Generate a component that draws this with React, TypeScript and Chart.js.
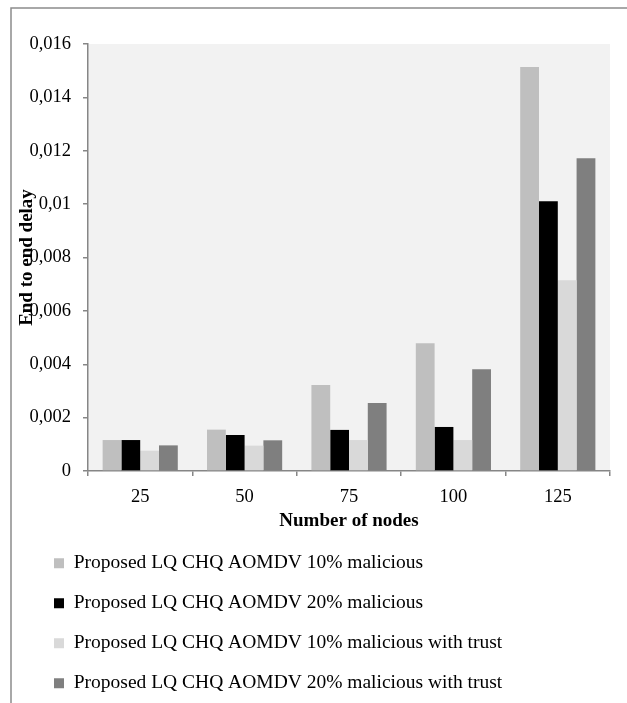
import React, { useEffect, useRef } from "react";
import { Chart, registerables } from "chart.js";

Chart.register(...registerables);

const categories = ["25", "50", "75", "100", "125"];
const seriesLabels = [
  "Proposed LQ CHQ AOMDV 10% malicious",
  "Proposed LQ CHQ AOMDV 20% malicious",
  "Proposed LQ CHQ AOMDV 10% malicious with trust",
  "Proposed LQ CHQ AOMDV 20% malicious with trust",
];
const mal10 = [0.00116, 0.00155, 0.00322, 0.00479, 0.01514];
const mal20 = [0.00116, 0.00135, 0.00154, 0.00165, 0.01011];
const mal10Trust = [0.00076, 0.00095, 0.00116, 0.00116, 0.00715];
const mal20Trust = [0.00096, 0.00115, 0.00255, 0.00381, 0.01172];
const seriesColors = ["#bfbfbf", "#000000", "#d9d9d9", "#7f7f7f"];
const yMin = 0;
const yMax = 0.016;
const yStep = 0.002;
const xTitle = "Number of nodes";
const yTitle = "End to end delay";

const FONT = "'Liberation Serif', 'Times New Roman', serif";
const AXIS_GRAY = "#868686";
const LEGEND_PAD = 20.5;
const PAD_LEFT = 54 - LEGEND_PAD;
const Y_SCALE_LEFT = 12;

const bgPlugin = {
  id: "bgPlugin",
  afterLayout(chart: any) {
    // widen the y scale's label area to the left so labels are not clipped
    const y = chart.scales.y;
    if (y) y.left = Y_SCALE_LEFT;
  },
  beforeDraw(chart: any) {
    const { ctx, chartArea } = chart;
    ctx.save();
    ctx.fillStyle = "#ffffff";
    ctx.fillRect(0, 0, chart.width, chart.height);
    ctx.strokeStyle = "#8c8c8c";
    ctx.lineWidth = 1.5;
    ctx.beginPath();
    ctx.moveTo(chart.width, 8);
    ctx.lineTo(11, 8);
    ctx.lineTo(11, chart.height);
    ctx.stroke();
    ctx.fillStyle = "#f2f2f2";
    ctx.fillRect(chartArea.left, chartArea.top, chartArea.right - chartArea.left, chartArea.bottom - chartArea.top);
    ctx.restore();
  },
};

export default function App() {
  const ref = useRef<HTMLCanvasElement | null>(null);

  useEffect(() => {
    if (!ref.current) return;
    const data = [mal10, mal20, mal10Trust, mal20Trust];
    const chart = new Chart(ref.current, {
      type: "bar",
      data: {
        labels: categories,
        datasets: data.map((d, i) => ({
          label: seriesLabels[i],
          data: d,
          backgroundColor: seriesColors[i],
          borderWidth: 0,
          categoryPercentage: 0.72,
          barPercentage: 1,
        })),
      },
      options: {
        responsive: false,
        animation: false,
        devicePixelRatio: 1,
        layout: { padding: { left: PAD_LEFT, right: 17, top: 44, bottom: 0 } },
        plugins: {
          tooltip: { enabled: false },
          legend: {
            position: "bottom",
            align: "start",
            labels: {
              boxWidth: 10,
              boxHeight: 10,
              padding: LEGEND_PAD,
              color: "#000",
              font: { family: FONT, size: 19.5 },
            },
          },
        },
        scales: {
          x: {
            grid: {
              display: true,
              drawOnChartArea: false,
              drawTicks: true,
              tickLength: 5,
              color: AXIS_GRAY,
              lineWidth: 1.5,
            },
            border: { display: true, color: AXIS_GRAY, width: 1.5 },
            ticks: { color: "#000", font: { family: FONT, size: 18.5 }, padding: 10 },
            title: {
              display: true,
              text: xTitle,
              color: "#000",
              font: { family: FONT, size: 19, weight: "bold" },
              padding: { top: 0, bottom: 1 },
            },
            afterFit(scale: any) {
              scale.height = 62;
            },
          },
          y: {
            min: yMin,
            max: yMax,
            grid: {
              display: true,
              drawOnChartArea: false,
              drawTicks: true,
              tickLength: 5,
              color: AXIS_GRAY,
              lineWidth: 1.5,
            },
            border: { display: true, color: AXIS_GRAY, width: 1.5 },
            ticks: {
              stepSize: yStep,
              color: "#000",
              font: { family: FONT, size: 18.5 },
              padding: 12,
              callback: (v: any) => String(+Number(v).toFixed(3)).replace(".", ","),
            },
            title: {
              display: true,
              text: yTitle,
              color: "#000",
              font: { family: FONT, size: 19, weight: "bold" },
              padding: { top: 27 - Y_SCALE_LEFT - 11.4, bottom: 0 },
            },
            afterFit(scale: any) {
              scale.width = 88 - PAD_LEFT;
            },
          },
        },
      },
      plugins: [bgPlugin],
    });
    return () => chart.destroy();
  }, []);

  return (
    <div style={{ position: "absolute", left: 0, top: 0, width: 627, height: 703 }}>
      <canvas ref={ref} width={627} height={703} style={{ width: 627, height: 703, display: "block" }} />
    </div>
  );
}
